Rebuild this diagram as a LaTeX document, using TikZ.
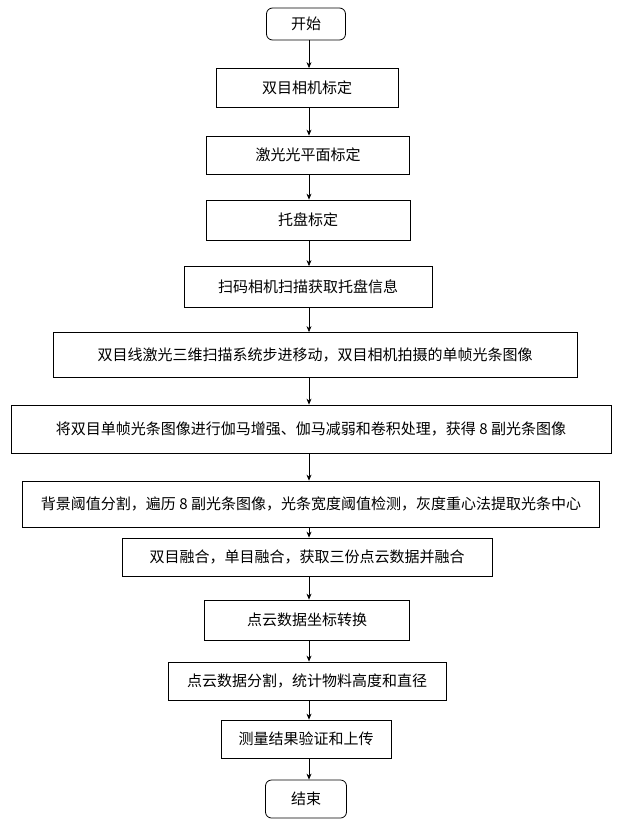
\documentclass[tikz,border=0pt]{standalone}
\usepackage{fontspec}
\newfontfamily\cjk{Noto Sans CJK SC}
\usetikzlibrary{arrows.meta}
\begin{document}
\begin{tikzpicture}[x=1pt,y=-1pt,
  box/.style={draw,line width=0.8pt,inner sep=0pt,font=\cjk\fontsize{15}{17}\selectfont},
  term/.style={box,rounded corners=6pt},
  arr/.style={-{Stealth[length=6pt,width=5pt]},line width=0.7pt}]
\useasboundingbox (0,0) rectangle (622,827);
\coordinate (ax) at (309,0);
\node[term,minimum width=79,minimum height=32] (n1) at (306,24) {开始};
\node[box,minimum width=182,minimum height=39] (n2) at (307,88) {双目相机标定};
\node[box,minimum width=203,minimum height=38] (n3) at (308,155) {激光光平面标定};
\node[box,minimum width=204,minimum height=40] (n4) at (308,220) {托盘标定};
\node[box,minimum width=248,minimum height=41] (n5) at (308,287) {扫码相机扫描获取托盘信息};
\node[box,minimum width=524,minimum height=45] (n6) at (315,355) {双目线激光三维扫描系统步进移动，双目相机拍摄的单帧光条图像};
\node[box,minimum width=600,minimum height=48] (n7) at (311,429) {将双目单帧光条图像进行伽马增强、伽马减弱和卷积处理，获得 8 副光条图像};
\node[box,minimum width=577,minimum height=46] (n8) at (311,504) {背景阈值分割，遍历 8 副光条图像，光条宽度阈值检测，灰度重心法提取光条中心};
\node[box,minimum width=370,minimum height=38] (n9) at (307,557) {双目融合，单目融合，获取三份点云数据并融合};
\node[box,minimum width=205,minimum height=40] (n10) at (307,620) {点云数据坐标转换};
\node[box,minimum width=278,minimum height=38] (n11) at (307,681) {点云数据分割，统计物料高度和直径};
\node[box,minimum width=170,minimum height=38] (n12) at (306,739) {测量结果验证和上传};
\node[term,minimum width=81,minimum height=38] (n13) at (306,799) {结束};
\foreach \a/\b in {n1/n2,n2/n3,n3/n4,n4/n5,n5/n6,n6/n7,n7/n8,n8/n9,n9/n10,n10/n11,n11/n12,n12/n13}
  \draw[arr] (\a.south -| ax) -- (\b.north -| ax);
\end{tikzpicture}
\end{document}
